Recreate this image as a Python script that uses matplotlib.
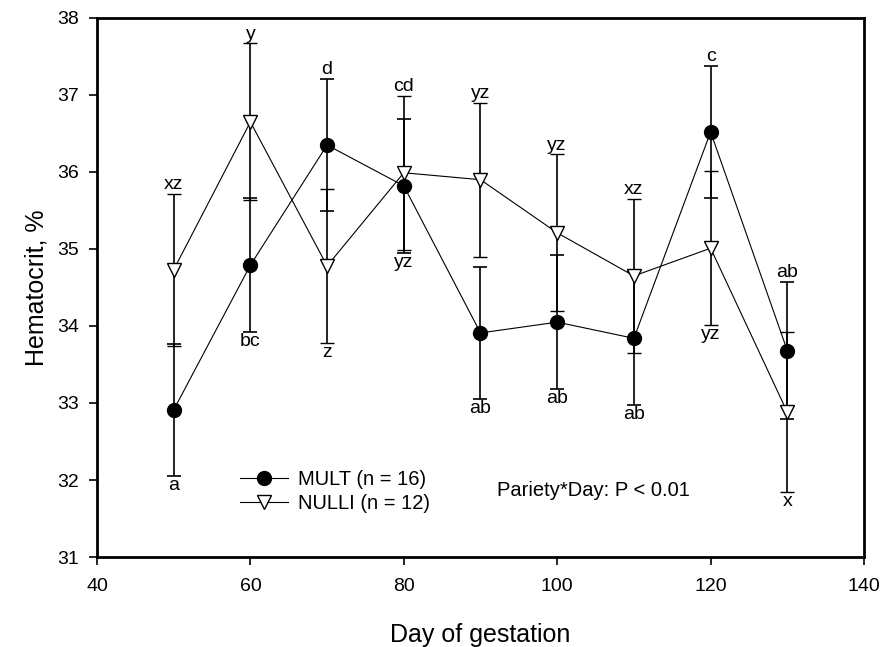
import numpy as np
import matplotlib.pyplot as plt
from matplotlib.lines import Line2D

plt.rcParams['font.family'] = ['Liberation Sans', 'DejaVu Sans']

days = [50, 60, 70, 80, 90, 100, 110, 120, 130]

mult_mean = [32.91, 34.79, 36.35, 35.82, 33.91, 34.05, 33.84, 36.52, 33.68]
mult_se = [0.86, 0.87, 0.86, 0.87, 0.86, 0.87, 0.87, 0.86, 0.89]

nulli_mean = [34.73, 36.65, 34.78, 35.99, 35.90, 35.21, 34.65, 35.01, 32.88]
nulli_se = [0.99, 1.02, 1.0, 1.0, 1.0, 1.02, 1.0, 1.0, 1.04]

# letter on top / bottom of each day, and which series it sits on
top_labels = ['xz', 'y', 'd', 'cd', 'yz', 'yz', 'xz', 'c', 'ab']
top_series = ['N', 'N', 'M', 'N', 'N', 'N', 'N', 'M', 'M']
bot_labels = ['a', 'bc', 'z', 'yz', 'ab', 'ab', 'ab', 'yz', 'x']
bot_series = ['M', 'M', 'N', 'M', 'M', 'M', 'M', 'N', 'N']

fig = plt.figure(figsize=(8.84, 6.47), dpi=100)
ax = fig.add_axes([0.1097, 0.1391, 0.8677, 0.8331])

ax.errorbar(days, mult_mean, yerr=mult_se, color='black', marker='o',
            markersize=10, linewidth=0.8, elinewidth=1.2, capsize=5,
            capthick=1.2, zorder=3)
ax.errorbar(days, nulli_mean, yerr=nulli_se, color='black', marker='v',
            markersize=10, markerfacecolor='white', markeredgewidth=1.0,
            linewidth=0.8, elinewidth=1.2, capsize=5, capthick=1.2, zorder=3)

series = {'M': (mult_mean, mult_se), 'N': (nulli_mean, nulli_se)}
for i, d in enumerate(days):
    m, s = series[top_series[i]]
    ax.annotate(top_labels[i], (d, m[i] + s[i]), xytext=(0, 0.5),
                textcoords='offset points', ha='center', va='bottom',
                fontsize=14)
    m, s = series[bot_series[i]]
    ax.annotate(bot_labels[i], (d, m[i] - s[i]), xytext=(0, -0.5),
                textcoords='offset points', ha='center', va='top',
                fontsize=14)

ax.text(92.2, 31.87, 'Pariety*Day: P < 0.01', fontsize=14.5, ha='left', va='center')

ax.set_xlim(40, 140)
ax.set_ylim(31, 38)
ax.set_xticks(np.arange(40, 141, 20))
ax.set_yticks(np.arange(31, 39, 1))
ax.tick_params(direction='out', length=6, width=1.2, labelsize=14)
ax.tick_params(axis='x', pad=9)
ax.tick_params(axis='y', pad=7)
for sp in ax.spines.values():
    sp.set_linewidth(2)

ax.set_xlabel('Day of gestation', fontsize=18, labelpad=20)
ax.set_ylabel('Hematocrit, %', fontsize=18, labelpad=6)

handles = [
    Line2D([], [], color='black', linewidth=0.8, marker='o', markersize=10),
    Line2D([], [], color='black', linewidth=0.8, marker='v', markersize=10,
           markerfacecolor='white', markeredgewidth=1.0),
]
ax.legend(handles, ['MULT (n = 16)', 'NULLI (n = 12)'], loc='center left',
          bbox_to_anchor=(0.186, 0.121), frameon=False, fontsize=14.5,
          handlelength=2.4, handletextpad=0.5, borderpad=0, borderaxespad=0,
          labelspacing=0.25)

fig.savefig('out.png', dpi=100)
